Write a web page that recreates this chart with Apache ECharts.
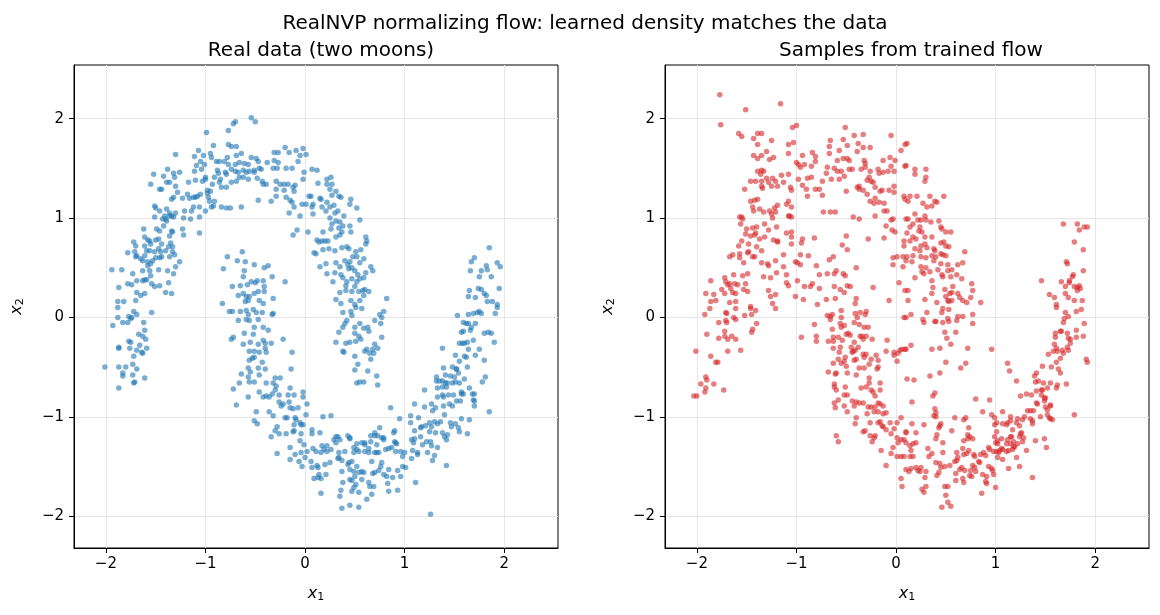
<!DOCTYPE html>
<html>
<head>
<meta charset="utf-8">
<script src="https://cdn.jsdelivr.net/npm/echarts@6/dist/echarts.min.js"></script>
<style>
  html, body { margin: 0; padding: 0; background: #fff; }
  #main { width: 1160px; height: 615px; }
</style>
</head>
<body>
<div id="main"></div>
<script>
// two moons
var realData = [
  [-0.54,2.01],[-0.50,1.97],[-0.70,1.97],[-0.72,1.95],[-0.77,1.88],[-0.99,1.86],[-0.77,1.74],[-0.74,1.72],[-0.69,1.72],[-0.92,1.73],
  [-0.20,1.71],[-0.09,1.68],[-0.02,1.70],[-1.07,1.68],[-1.30,1.64],[-1.11,1.62],[-1.02,1.63],[-0.95,1.65],[-0.94,1.61],[-0.78,1.61],
  [-0.69,1.63],[-0.64,1.65],[-0.54,1.61],[-0.49,1.60],[-0.47,1.57],[-0.38,1.56],[-0.31,1.66],[-0.27,1.66],[-0.16,1.66],[-0.05,1.63],
  [0.01,1.64],[-1.05,1.57],[-1.01,1.54],[-0.89,1.57],[-0.86,1.57],[-0.81,1.57],[-0.77,1.54],[-0.74,1.49],[-0.70,1.54],[-0.66,1.56],
  [-0.61,1.55],[-0.62,1.48],[-0.57,1.54],[-0.51,1.48],[-0.46,1.50],[-0.31,1.58],[-0.27,1.56],[-0.32,1.50],[-0.19,1.50],[-0.13,1.50],
  [-0.07,1.57],[-1.09,1.53],[-1.04,1.49],[-1.11,1.47],[-0.88,1.48],[-0.87,1.45],[-0.80,1.46],[-0.79,1.44],[-0.70,1.47],[-0.67,1.46],
  [-0.59,1.46],[-0.56,1.47],[-0.51,1.46],[-0.44,1.49],[-0.28,1.50],[-1.38,1.49],[-1.32,1.45],[-1.26,1.46],[-1.52,1.44],[-1.42,1.42],
  [-1.55,1.34],[-1.46,1.29],[-1.44,1.29],[-1.39,1.36],[-1.36,1.36],[-1.31,1.41],[-1.30,1.32],[-1.17,1.36],[-1.10,1.38],[-1.03,1.37],
  [-1.00,1.39],[-1.00,1.41],[-0.91,1.41],[-0.86,1.36],[-0.85,1.39],[-0.84,1.31],[-0.79,1.31],[-0.74,1.36],[-0.69,1.37],[-0.66,1.41],
  [-0.62,1.41],[-0.57,1.39],[-0.48,1.40],[-0.42,1.34],[-0.39,1.34],[-0.43,1.37],[-0.29,1.37],[-0.25,1.34],[-0.21,1.34],[-0.17,1.34],
  [-0.12,1.31],[-0.10,1.33],[-0.02,1.39],[-0.01,1.46],[0.07,1.49],[-0.29,1.29],[-0.21,1.28],[-0.11,1.27],[-0.98,1.28],[-0.95,1.27],
  [-0.93,1.34],[-1.28,1.26],[-1.32,1.21],[-1.34,1.19],[-1.18,1.24],[-1.16,1.20],[-1.12,1.21],[-1.10,1.21],[-1.08,1.22],[-1.05,1.24],
  [-0.98,1.25],[-0.97,1.21],[-0.91,1.17],[-0.96,1.17],[-0.84,1.11],[-0.79,1.10],[-0.75,1.10],[-0.64,1.11],[-0.47,1.18],[-0.34,1.17],
  [-0.29,1.22],[-0.19,1.21],[-0.15,1.18],[-0.13,1.16],[-0.11,1.11],[-0.03,1.14],[0.01,1.14],[0.04,1.22],[0.06,1.22],[0.07,1.11],
  [0.08,1.14],[-1.23,1.20],[-1.12,1.11],[-1.06,1.11],[-1.51,1.12],[-1.50,1.10],[-1.46,1.07],[-1.41,1.02],[-1.39,1.09],[-1.36,1.02],
  [-1.36,1.05],[-1.34,1.02],[-1.32,1.01],[-1.39,0.97],[-1.43,0.99],[-1.40,0.99],[-1.51,1.01],[-1.30,1.05],[-1.21,1.07],[-1.14,1.07],
  [-1.06,1.01],[-1.22,1.00],[-1.15,0.99],[-1.00,1.07],[-0.94,1.11],[-0.92,1.12],[-0.16,1.05],[-0.05,1.02],[0.08,1.04],
  [-1.62,0.89],[-1.49,0.89],[-1.46,0.87],[-1.42,0.92],[-1.34,0.87],[-1.33,0.86],[-1.36,0.82],[-1.23,0.89],[-1.22,0.83],[-1.06,0.85],
  [-1.72,0.76],[-1.61,0.81],[-1.58,0.78],[-1.56,0.77],[-1.55,0.74],[-1.50,0.78],[-1.47,0.79],[-1.44,0.74],[-1.35,0.75],[-1.33,0.71],
  [-1.70,0.72],[-1.78,0.65],[-1.71,0.66],[-1.69,0.62],[-1.61,0.72],[-1.61,0.62],[-1.59,0.67],[-1.56,0.67],[-1.51,0.66],[-1.47,0.69],
  [-1.45,0.66],[-1.40,0.67],[-1.37,0.71],[-1.33,0.66],[-1.31,0.63],[-1.36,0.61],[-1.26,0.56],[-1.30,0.51],[-1.70,0.61],[-1.65,0.59],
  [-1.63,0.57],[-1.58,0.56],[-1.55,0.54],[-1.53,0.57],[-1.50,0.60],[-1.46,0.60],[-1.44,0.61],[-1.58,0.52],[-1.56,0.47],[-1.63,0.47],
  [-1.55,0.42],[-1.61,0.38],[-1.63,0.37],[-1.59,0.38],[-1.54,0.34],[-1.51,0.31],[-1.46,0.32],[-1.73,0.44],[-1.78,0.34],[-1.74,0.33],
  [-1.69,0.37],[-1.84,0.48],[-1.94,0.48],[-1.87,0.30],[-1.69,0.25],[-1.65,0.22],[-1.61,0.24],[-1.37,0.35],[-1.40,0.25],[-1.34,0.24],
  [-1.32,0.44],[-1.38,0.47],[-1.47,0.48],[-1.88,0.16],[-1.82,0.16],[-1.70,0.17],
  [-0.78,0.61],[-0.68,0.57],[-0.63,0.66],[-0.60,0.56],[-0.51,0.53],[-0.41,0.50],[-0.37,0.52],[-0.61,0.47],[-0.62,0.41],[-0.73,0.31],
  [-0.65,0.32],[-0.58,0.33],[-0.54,0.36],[-0.50,0.35],[-0.48,0.37],[-0.42,0.37],[-0.41,0.31],[-0.33,0.41],[-0.20,0.36],[-0.67,0.22],
  [-0.62,0.24],[-0.59,0.21],[-0.56,0.21],[-0.51,0.24],[-0.47,0.26],[-0.41,0.26],[-0.60,0.16],[-0.57,0.17],[-0.46,0.17],[-0.42,0.14],
  [-0.83,0.14],[-0.82,0.49],[-0.32,0.19],[-0.12,0.83],[-0.08,0.88],[0.03,0.86],[0.09,0.65],
  [0.12,1.48],[0.13,1.35],[0.22,1.39],[0.26,1.41],[0.22,1.34],[0.27,1.34],[0.25,1.29],[0.31,1.27],[0.34,1.22],[0.27,1.23],
  [0.36,1.21],[0.15,1.20],[0.16,1.19],[0.22,1.16],[0.46,1.19],[0.17,1.11],[0.25,1.11],[0.29,1.13],[0.21,1.07],[0.30,1.05],
  [0.33,1.07],[0.45,1.14],[0.52,1.10],[0.39,1.02],[0.25,1.00],[0.31,0.97],[0.35,0.96],[0.38,0.92],[0.27,0.94],[0.34,0.90],
  [0.26,0.89],[0.45,0.92],[0.55,0.98],[0.46,0.86],[0.37,0.86],[0.18,0.86],[0.35,0.83],[0.31,0.81],[0.61,0.81],[0.62,0.77],
  [0.61,0.74],[0.12,0.78],[0.17,0.77],[0.20,0.77],[0.23,0.77],[0.14,0.76],[0.24,0.69],[0.18,0.68],[0.30,0.67],[0.37,0.70],
  [0.42,0.71],[0.44,0.69],[0.51,0.66],[0.56,0.68],[0.48,0.61],[0.52,0.61],[0.59,0.59],[0.40,0.57],[0.45,0.56],[0.55,0.55],
  [0.11,0.64],[0.15,0.51],[0.21,0.54],[0.31,0.55],[0.35,0.51],[0.43,0.53],[0.47,0.50],[0.44,0.49],[0.50,0.47],[0.53,0.43],
  [0.61,0.45],[0.66,0.51],[0.68,0.47],[0.22,0.44],[0.30,0.45],[0.36,0.43],[0.38,0.40],[0.42,0.36],[0.47,0.39],[0.52,0.36],
  [0.55,0.39],[0.59,0.40],[0.28,0.36],[0.41,0.32],[0.50,0.31],[0.35,0.25],[0.41,0.27],[0.47,0.26],[0.54,0.26],[0.58,0.27],
  [0.60,0.28],[0.64,0.26],[0.59,0.22],[0.31,0.18],[0.36,0.14],[0.46,0.17],[0.55,0.17],[0.50,0.13],[0.82,0.19],
  [1.85,0.70],[1.70,0.60],[1.67,0.56],[1.66,0.47],[1.77,0.47],[1.82,0.52],[1.83,0.48],[1.93,0.55],[1.96,0.51],[1.75,0.41],
  [1.87,0.41],[1.65,0.27],[1.74,0.29],[1.77,0.28],[1.80,0.24],[1.82,0.22],[1.95,0.29],[1.64,0.21],[1.71,0.20],[1.83,0.16],
  [1.88,0.16],[1.93,0.13],
  [-1.88,0.10],[-1.72,0.06],[-1.69,0.03],[-1.54,0.05],[-1.88,0.00],[-1.77,0.01],[-1.75,-0.01],[-1.74,0.00],[-1.83,-0.05],[-1.78,-0.05],
  [-1.62,-0.05],[-1.93,-0.08],[-1.67,-0.17],[-1.63,-0.19],[-1.61,-0.13],[-1.60,-0.22],[-1.77,-0.24],[-1.75,-0.25],[-1.87,-0.30],[-1.87,-0.31],
  [-1.76,-0.31],[-1.66,-0.28],[-1.59,-0.31],[-1.69,-0.33],[-1.64,-0.35],[-1.63,-0.36],[-1.72,-0.39],[-2.01,-0.50],[-1.87,-0.50],[-1.80,-0.50],
  [-1.73,-0.47],[-1.69,-0.52],[-1.83,-0.56],[-1.83,-0.59],[-1.73,-0.58],[-1.61,-0.61],[-1.72,-0.66],[-1.71,-0.65],[-1.87,-0.71],
  [-0.76,0.06],[-0.73,0.06],[-0.65,0.06],[-0.59,0.07],[-0.57,0.03],[-0.52,0.08],[-0.49,0.05],[-0.43,0.05],[-0.33,0.03],[-0.32,0.04],
  [-0.67,-0.03],[-0.59,-0.02],[-0.56,-0.03],[-0.47,-0.02],[-0.42,-0.10],[-0.37,-0.13],[-0.51,-0.10],[-0.61,-0.16],[-0.52,-0.17],[-0.74,-0.22],
  [-0.72,-0.20],[-0.62,-0.27],[-0.55,-0.25],[-0.47,-0.27],[-0.42,-0.23],[-0.40,-0.26],[-0.34,-0.26],[-0.22,-0.22],[-0.56,-0.34],[-0.51,-0.34],
  [-0.46,-0.35],[-0.40,-0.31],[-0.39,-0.35],[-0.51,-0.40],[-0.53,-0.41],[-0.56,-0.43],[-0.43,-0.45],[-0.13,-0.35],[-0.57,-0.51],[-0.47,-0.51],
  [-0.40,-0.52],[-0.64,-0.57],[-0.57,-0.60],[-0.55,-0.55],[-0.46,-0.58],[-0.14,-0.52],[-0.56,-0.65],[-0.51,-0.65],[-0.39,-0.66],[-0.32,-0.66],
  [-0.30,-0.61],[-0.25,-0.61],[-0.66,-0.66],[-0.72,-0.72],[-0.57,-0.80],[-0.46,-0.75],[-0.42,-0.80],[-0.39,-0.79],[-0.36,-0.80],[-0.33,-0.77],
  [-0.29,-0.69],[-0.30,-0.73],[-0.26,-0.78],[-0.15,-0.71],[-0.17,-0.78],[-0.11,-0.78],[-0.02,-0.75],[-0.02,-0.80],[-0.26,-0.85],[-0.22,-0.87],
  [-0.16,-0.85],[-0.24,-0.89],[-0.15,-0.91],[-0.12,-0.92],[-0.07,-0.91],[0.02,-0.87],[0.01,-0.98],[-0.69,-0.88],[-0.49,-0.95],[-0.36,-0.95],
  [-0.32,-0.99],[-0.51,-1.04],[-0.48,-1.07],[-0.28,-1.10],[-0.20,-1.01],[-0.18,-1.01],[-0.10,-1.01],[-0.09,-1.03],[-0.05,-1.06],[-0.02,-1.08],
  [-0.04,-1.08],[-0.11,-1.08],[-0.30,-1.14],[-0.26,-1.17],[-0.34,-1.20],[-0.19,-1.17],[-0.12,-1.15],[-0.11,-1.14],[-0.04,-1.17],[0.07,-1.13],
  [0.07,-1.17],[-0.15,-1.31],[-0.05,-1.24],[-0.01,-1.28],[0.08,-1.32],[0.02,-1.35],[-0.04,-1.36],[-0.10,-1.38],[-0.28,-1.37],[-0.15,-1.43],
  [-0.06,-1.45],[0.00,-1.41],[0.06,-1.45],[-0.03,-1.50],[0.07,-1.51],[0.09,-1.62],
  [0.38,0.05],[0.46,0.06],[0.51,0.10],[0.57,0.09],[0.79,0.06],[0.75,0.03],[0.47,0.02],[0.42,-0.03],[0.40,-0.06],[0.38,-0.10],
  [0.34,-0.15],[0.50,-0.10],[0.55,-0.06],[0.59,-0.11],[0.63,-0.10],[0.64,-0.14],[0.70,-0.03],[0.76,-0.06],[0.77,0.00],[0.50,-0.16],
  [0.54,-0.19],[0.56,-0.22],[0.31,-0.25],[0.41,-0.26],[0.45,-0.25],[0.51,-0.24],[0.77,-0.20],[0.70,-0.27],[0.73,-0.31],[0.68,-0.32],
  [0.60,-0.34],[0.62,-0.32],[0.38,-0.34],[0.39,-0.35],[0.50,-0.39],[0.65,-0.36],[0.69,-0.36],[0.53,-0.47],[0.50,-0.53],[0.63,-0.54],
  [0.66,-0.42],[0.72,-0.59],[0.73,-0.68],[0.52,-0.66],[0.55,-0.65],[0.59,-0.65],
  [0.18,-1.00],[0.26,-0.99],[0.15,-1.16],[0.11,-1.35],[0.17,-1.29],[0.22,-1.29],[0.26,-1.33],[0.19,-1.33],[0.22,-1.35],[0.16,-1.36],
  [0.12,-1.49],[0.13,-1.51],[0.14,-1.58],[0.13,-1.61],[0.16,-1.62],[0.16,-1.77],[0.21,-1.58],[0.25,-1.46],[0.20,-1.48],[0.29,-1.23],
  [0.31,-1.20],[0.33,-1.20],[0.35,-1.23],[0.43,-1.19],[0.45,-1.21],[0.45,-1.22],[0.31,-1.26],[0.34,-1.36],[0.34,-1.41],[0.33,-1.42],
  [0.37,-1.44],[0.40,-1.35],[0.49,-1.36],[0.52,-1.33],[0.54,-1.35],[0.60,-1.26],[0.60,-1.28],[0.64,-1.32],[0.66,-1.25],[0.70,-1.16],
  [0.73,-1.19],[0.75,-1.11],[0.79,-1.21],[0.70,-1.36],[0.74,-1.36],[0.77,-1.46],[0.81,-1.33],[0.84,-1.32],[0.87,-1.31],[0.90,-1.25],
  [0.92,-1.27],[0.89,-1.16],[0.90,-1.14],[0.91,-1.26],[0.47,-1.45],[0.43,-1.48],[0.45,-1.53],[0.52,-1.50],[0.49,-1.55],[0.54,-1.56],
  [0.57,-1.55],[0.59,-1.56],[0.50,-1.60],[0.37,-1.55],[0.38,-1.66],[0.45,-1.63],[0.47,-1.64],[0.51,-1.68],[0.49,-1.71],[0.36,-1.74],
  [0.35,-1.80],[0.47,-1.75],[0.54,-1.76],[0.37,-1.92],[0.45,-1.89],[0.54,-1.91],[0.62,-1.83],[0.67,-1.78],[0.69,-1.70],[0.68,-1.57],
  [0.70,-1.56],[0.74,-1.54],[0.67,-1.45],[0.72,-1.36],[0.76,-1.50],[0.79,-1.58],[0.82,-1.60],[0.84,-1.53],[0.83,-1.67],[0.84,-1.75],
  [0.88,-1.61],[0.93,-1.74],[0.96,-1.60],[0.93,-1.54],[0.98,-1.50],[1.01,-1.51],[1.00,-1.36],[0.98,-1.40],[0.96,-1.35],[0.91,-1.35],
  [0.60,-1.35],[0.64,-1.36],[0.72,-1.28],[0.77,-1.21],[0.79,-1.23],[0.70,-1.19],[0.66,-1.19],[0.57,-1.26],[0.52,-1.27],[0.49,-1.31],
  [0.44,-1.46],[0.57,-1.63],[0.64,-1.66],[0.65,-1.70],
  [1.07,-1.42],[1.08,-1.34],[1.13,-1.38],[1.09,-1.26],[1.07,-1.23],[1.10,-1.22],[1.11,-1.66],[1.06,-1.06],[1.10,-1.14],[1.16,-1.11],
  [1.17,-1.10],[1.21,-1.09],[1.25,-1.06],[1.30,-1.05],[1.33,-1.07],[1.36,-1.05],[1.27,-1.10],[1.25,-1.15],[1.31,-1.16],[1.38,-1.16],
  [1.40,-1.20],[1.43,-1.18],[1.42,-1.23],[1.33,-1.31],[1.27,-1.29],[1.22,-1.25],[1.16,-1.20],[1.18,-1.28],[1.30,-1.39],[1.28,-1.44],
  [1.23,-1.36],[1.13,-1.36],[1.42,-1.49],[1.26,-1.98],[1.26,-1.25],[1.46,-1.06],[1.51,-1.07],[1.54,-1.11],[1.55,-1.15],[1.63,-1.17],
  [1.65,-1.03],[1.57,-1.02],[1.47,-1.10],[0.95,-1.02],[0.86,-0.91],[1.06,-0.99],[1.14,-1.01],[1.10,-0.87],[1.20,-0.90],[1.27,-0.87],
  [1.28,-0.94],[1.31,-0.91],[1.39,-0.89],[1.40,-0.98],[1.45,-0.87],[1.48,-0.89],[1.52,-0.84],[1.56,-0.84],[1.70,-0.84],[1.70,-0.89],
  [1.85,-0.95],[1.33,-0.80],[1.38,-0.78],[1.39,-0.80],[1.44,-0.78],[1.49,-0.78],[1.57,-0.75],[1.57,-0.77],[1.59,-0.77],[1.68,-0.77],
  [1.20,-0.73],[1.33,-0.71],[1.38,-0.70],[1.42,-0.70],[1.41,-0.66],[1.43,-0.66],[1.48,-0.66],[1.51,-0.65],[1.55,-0.66],[1.60,-0.62],
  [1.65,-0.71],[1.70,-0.77],[1.32,-0.64],[1.35,-0.64],[1.38,-0.64],[1.32,-0.60],[1.41,-0.58],[1.46,-0.59],[1.50,-0.60],[1.54,-0.56],
  [1.52,-0.52],[1.39,-0.51],[1.48,-0.50],[1.52,-0.52],[1.81,-0.60],[1.78,-0.65],[1.69,-0.83],[1.55,-0.44],[1.60,-0.39],[1.62,-0.40],
  [1.51,-0.38],[1.63,-0.50],[1.71,-0.38],[1.75,-0.32],[1.80,-0.43],[1.64,-0.32],[1.38,-0.31],[1.55,-0.26],[1.58,-0.26],[1.60,-0.26],
  [1.63,-0.25],[1.69,-0.23],[1.57,-0.15],[1.59,-0.14],[1.66,-0.13],[1.67,-0.10],[1.80,-0.16],[1.84,-0.15],[1.87,-0.16],[1.90,-0.25],
  [1.59,-0.05],[1.62,-0.06],[1.64,-0.06],[1.71,-0.06],[1.53,0.02],[1.64,0.03],[1.69,0.04],[1.73,0.05],[1.75,0.06],[1.77,0.04],
  [1.91,0.04],[1.93,0.10]
];

// samples from the flow
var flowData = [
  [-1.77,2.24],[-1.51,2.09],[-1.16,2.15],[-1.76,1.94],[-1.00,1.93],[-1.04,1.91],[-0.51,1.91],[-1.58,1.85],[-1.55,1.82],[-1.39,1.85],
  [-1.35,1.85],[-1.43,1.80],[-1.25,1.78],[-1.39,1.74],[-1.08,1.74],[-1.03,1.76],[-0.42,1.83],[-0.33,1.84],[-0.53,1.79],[-0.66,1.78],
  [-0.49,1.73],[-0.38,1.75],[-0.67,1.72],[-0.33,1.71],[-0.26,1.71],[-0.05,1.83],[0.09,1.74],[0.05,1.68],[-1.30,1.67],[-1.43,1.63],
  [-1.35,1.63],[-1.39,1.60],[-1.27,1.59],[-1.23,1.61],[-1.08,1.65],[-0.94,1.63],[-0.84,1.66],[-0.81,1.62],[-0.67,1.65],[-0.57,1.68],
  [-0.53,1.60],[-0.49,1.60],[-0.47,1.58],[-0.39,1.67],[-0.32,1.58],[-0.31,1.55],[-0.13,1.58],[-0.06,1.61],[-0.01,1.58],[-1.00,1.56],
  [-0.98,1.54],[-0.96,1.51],[-0.92,1.54],[-0.85,1.52],[-0.81,1.57],[-0.59,1.58],[-0.62,1.50],[-0.69,1.51],[-0.70,1.45],[-0.59,1.47],
  [-0.55,1.47],[-0.47,1.49],[-0.44,1.49],[-0.35,1.49],[-0.31,1.51],[-0.26,1.47],[-0.18,1.49],[-0.17,1.45],[-0.13,1.46],[-0.08,1.47],
  [-0.05,1.52],[-0.02,1.47],[0.09,1.52],[-1.39,1.47],[-1.35,1.48],[-1.33,1.47],[-1.36,1.44],[-1.30,1.40],[-1.46,1.37],[-1.41,1.37],
  [-1.35,1.37],[-1.28,1.36],[-1.24,1.40],[-1.21,1.37],[-1.15,1.43],[-1.13,1.36],[-1.08,1.44],[-1.25,1.32],[-1.19,1.32],[-1.35,1.32],
  [-1.34,1.30],[-1.52,1.29],[-1.06,1.31],[-1.05,1.28],[-0.98,1.39],[-0.89,1.40],[-0.85,1.41],[-0.94,1.33],[-0.90,1.29],[-0.89,1.22],
  [-0.81,1.29],[-0.77,1.29],[-0.74,1.23],[-0.74,1.37],[-0.65,1.39],[-0.57,1.39],[-0.52,1.42],[-0.50,1.27],[-0.39,1.31],[-0.37,1.29],
  [-0.37,1.32],[-0.33,1.28],[-0.27,1.41],[-0.29,1.38],[-0.25,1.37],[-0.23,1.36],[-0.21,1.31],[-0.16,1.27],[-0.14,1.28],[-0.07,1.28],
  [-0.02,1.32],[-0.29,1.24],[-0.21,1.20],[-0.26,1.17],[-0.22,1.15],[-0.17,1.16],[-0.12,1.15],[-0.09,1.07],[-0.02,1.26],[0.08,1.22],
  [0.09,1.19],[-1.42,1.18],[-1.39,1.19],[-1.46,1.17],[-1.44,1.11],[-1.37,1.09],[-1.43,1.07],[-1.33,1.06],[-1.27,1.07],[-1.22,1.10],
  [-1.19,1.13],[-1.10,1.14],[-1.08,1.17],[-1.05,1.11],[-1.21,1.06],[-1.24,1.00],[-1.25,1.04],[-1.07,1.02],[-1.05,1.01],[-1.08,1.02],
  [-0.73,1.06],[-0.66,1.06],[-0.61,1.06],[-0.43,1.01],[-0.37,0.99],[-0.21,1.02],[-0.12,1.07],[-0.05,0.98],[-0.03,0.99],[-0.10,0.92],
  [-0.04,0.88],[-0.01,0.86],[0.10,0.99],[-1.57,1.01],[-1.55,1.01],[-1.54,0.99],[-1.56,0.94],[-1.50,0.89],[-1.44,0.90],[-1.40,0.91],
  [-1.32,0.94],[-1.28,0.88],[-1.20,0.91],[-1.51,0.84],[-1.46,0.82],[-1.42,0.83],[-1.41,0.85],[-1.37,0.79],[-1.32,0.81],[-1.55,0.77],
  [-1.48,0.74],[-1.58,0.72],[-1.40,0.71],[-1.35,0.67],[-1.23,0.78],[-1.19,0.77],[-1.19,0.76],[-1.10,0.85],[-1.05,0.86],[-1.05,0.81],
  [-1.05,0.74],[-0.94,0.79],[-0.95,0.75],[-0.82,0.80],[-0.50,0.82],[-0.54,0.73],[-0.49,0.68],[-0.28,0.79],[-0.12,0.80],[-1.48,0.66],
  [-1.42,0.61],[-1.44,0.61],[-1.49,0.65],[-1.53,0.55],[-1.57,0.60],[-1.67,0.61],[-1.64,0.63],[-1.57,0.64],[-1.35,0.55],[-1.29,0.54],
  [-1.28,0.52],[-1.21,0.57],[-1.13,0.63],[-1.13,0.51],[-1.01,0.56],[-0.99,0.55],[-0.96,0.53],[-0.96,0.63],[-0.88,0.62],[-0.80,0.52],
  [-0.67,0.58],[-0.63,0.61],[-0.60,0.47],[-0.62,0.44],[-0.53,0.44],[-0.51,0.42],[-0.40,0.50],[-0.77,0.43],[-0.69,0.44],[-1.10,0.43],
  [-1.20,0.45],[-1.33,0.41],[-1.26,0.40],[-1.49,0.44],[-1.54,0.42],[-1.63,0.43],[-1.72,0.40],[-1.71,0.36],[-1.69,0.33],[-1.67,0.34],
  [-1.62,0.34],[-1.59,0.33],[-1.51,0.34],[-1.66,0.29],[-1.64,0.25],[-1.61,0.24],[-1.53,0.28],[-1.49,0.26],[-1.75,0.28],[-1.72,0.24],
  [-1.86,0.37],[-1.83,0.23],[-1.91,0.24],[-1.86,0.16],[-1.81,0.17],[-1.67,0.15],[-1.61,0.16],[-1.46,0.11],[-1.28,0.27],[-1.26,0.21],
  [-1.21,0.23],[-1.24,0.14],[-1.10,0.35],[-1.08,0.32],[-0.99,0.37],[-1.01,0.21],[-0.93,0.18],[-0.92,0.31],[-0.86,0.31],[-0.84,0.34],
  [-0.77,0.29],[-0.70,0.18],[-0.79,0.13],[-0.62,0.31],[-0.61,0.19],[-0.56,0.28],[-0.52,0.25],[-0.49,0.32],[-0.46,0.31],[-0.40,0.19],
  [-0.41,0.14],[-0.23,0.30],[-0.07,0.17],[0.03,0.35],[0.09,0.27],[0.08,0.72],[0.08,0.77],[0.07,0.61],[-0.03,0.60],[0.01,0.61],
  [-0.03,0.53],[0.07,0.51],
  [0.11,1.75],[0.10,1.53],[0.19,1.49],[0.19,1.44],[0.30,1.49],[0.29,1.37],[0.30,1.41],[0.14,1.22],[0.21,1.22],[0.34,1.22],
  [0.48,1.22],[0.39,1.17],[0.41,1.16],[0.36,1.12],[0.31,1.11],[0.27,1.15],[0.12,1.17],[0.12,0.99],[0.19,1.04],[0.29,1.02],
  [0.22,0.98],[0.25,0.98],[0.30,0.98],[0.35,0.96],[0.43,0.97],[0.17,0.94],[0.14,0.91],[0.24,0.91],[0.45,0.91],[0.46,0.89],
  [0.23,0.87],[0.26,0.86],[0.50,0.86],[0.55,0.86],[0.11,0.85],[0.17,0.81],[0.29,0.81],[0.36,0.81],[0.20,0.79],[0.14,0.77],
  [0.25,0.72],[0.29,0.74],[0.45,0.75],[0.48,0.76],[0.50,0.72],[0.53,0.71],[0.19,0.69],[0.24,0.67],[0.31,0.70],[0.38,0.69],
  [0.39,0.67],[0.45,0.64],[0.47,0.63],[0.50,0.62],[0.69,0.66],[0.11,0.61],[0.17,0.62],[0.25,0.61],[0.30,0.60],[0.36,0.62],
  [0.40,0.61],[0.38,0.57],[0.16,0.56],[0.10,0.57],[0.25,0.51],[0.30,0.50],[0.26,0.46],[0.28,0.44],[0.34,0.46],[0.42,0.48],
  [0.45,0.54],[0.52,0.53],[0.52,0.47],[0.56,0.48],[0.61,0.43],[0.62,0.53],[0.67,0.55],[0.46,0.43],[0.47,0.41],[0.55,0.41],
  [0.66,0.39],[0.19,0.40],[0.36,0.37],[0.37,0.30],[0.36,0.24],[0.49,0.28],[0.57,0.31],[0.56,0.25],[0.76,0.34],[0.77,0.27],
  [0.62,0.24],[0.54,0.24],[0.50,0.21],[0.56,0.17],[0.53,0.16],[0.52,0.17],[0.64,0.20],[0.67,0.17],[0.71,0.15],[0.75,0.20],
  [0.85,0.15],[0.41,0.15],[0.29,0.18],[0.12,0.17],[0.12,0.27],
  [1.68,0.94],[1.82,0.94],[1.84,0.88],[1.89,0.91],[1.92,0.91],[1.79,0.76],[1.88,0.68],[1.71,0.56],[1.72,0.54],[1.88,0.47],
  [1.78,0.43],[1.77,0.41],[1.74,0.37],[1.66,0.36],[1.70,0.31],[1.74,0.35],[1.79,0.31],[1.82,0.30],[1.84,0.32],[1.82,0.27],
  [1.85,0.29],[1.46,0.37],[1.54,0.23],[1.59,0.20],[1.70,0.24],[1.73,0.20],[1.79,0.17],[1.87,0.17],[1.61,0.13],
  [-1.87,0.09],[-1.92,0.03],[-1.71,0.05],[-1.70,0.04],[-1.61,0.09],[-1.52,0.02],[-1.46,0.09],[-1.41,0.07],[-1.45,0.03],[-1.21,0.09],
  [-1.78,-0.05],[-1.71,-0.03],[-1.70,-0.05],[-1.63,0.00],[-1.61,-0.02],[-1.40,-0.06],[-1.44,-0.12],[-1.45,-0.15],[-1.90,-0.17],[-1.78,-0.21],
  [-1.72,-0.19],[-1.69,-0.22],[-1.65,-0.19],[-1.61,-0.22],[-1.72,-0.14],[-2.01,-0.34],[-1.69,-0.34],[-1.56,-0.33],[-1.86,-0.39],[-1.81,-0.45],
  [-1.79,-0.45],[-1.91,-0.60],[-1.90,-0.63],[-1.96,-0.67],[-1.91,-0.71],[-1.92,-0.75],[-1.83,-0.67],[-1.73,-0.73],[-2.03,-0.79],[-2.00,-0.79],
  [-0.95,-0.20],[-0.82,-0.07],[-0.80,-0.19],[-0.80,-0.24],[-0.69,0.02],[-0.66,0.01],[-0.64,0.03],[-0.66,-0.02],[-0.55,0.07],[-0.55,0.00],
  [-0.56,-0.06],[-0.52,-0.08],[-0.55,-0.10],[-0.64,-0.12],[-0.63,-0.20],[-0.63,-0.24],[-0.68,-0.24],[-0.63,-0.31],[-0.58,-0.20],[-0.54,-0.23],
  [-0.56,-0.30],[-0.48,-0.16],[-0.46,-0.18],[-0.50,-0.17],[-0.42,-0.25],[-0.45,-0.30],[-0.41,0.04],[-0.39,0.00],[-0.42,-0.05],[-0.37,-0.07],
  [-0.32,-0.10],[-0.28,-0.10],[-0.36,0.05],[-0.30,0.06],[-0.31,0.03],[-0.36,-0.19],[-0.34,-0.19],[-0.30,-0.19],[-0.33,-0.22],[-0.24,-0.22],
  [-0.41,-0.33],[-0.38,-0.30],[-0.43,-0.34],[-0.44,-0.35],[-0.57,-0.35],[-0.51,-0.40],[-0.52,-0.44],[-0.58,-0.42],[-0.55,-0.46],[-0.63,-0.46],
  [-0.50,-0.49],[-0.40,-0.42],[-0.42,-0.43],[-0.33,-0.37],[-0.32,-0.40],[-0.30,-0.37],[-0.27,-0.47],[-0.32,-0.51],[-0.37,-0.51],[-0.25,-0.42],
  [-0.20,-0.38],[-0.18,-0.43],[-0.18,-0.50],[-0.19,-0.52],[-0.10,-0.34],[-0.02,-0.38],[0.02,-0.36],[0.06,-0.32],[0.09,-0.32],[0.01,-0.44],
  [-0.68,-0.55],[-0.61,-0.57],[-0.60,-0.56],[-0.49,-0.56],[-0.40,-0.58],[-0.27,-0.61],[-0.27,-0.66],[-0.30,-0.70],[-0.35,-0.71],[-0.62,-0.67],
  [-0.62,-0.70],[-0.60,-0.73],[-0.51,-0.70],[-0.49,-0.78],[-0.52,-0.78],[-0.58,-0.83],[-0.62,-0.86],[-0.61,-0.91],[-0.52,-0.89],[-0.49,-0.95],
  [-0.44,-0.84],[-0.40,-0.85],[-0.37,-0.86],[-0.42,-0.89],[-0.33,-0.86],[-0.28,-0.90],[-0.29,-0.97],[-0.25,-0.73],[-0.23,-0.75],[-0.16,-0.66],
  [-0.16,-0.73],[-0.21,-0.79],[-0.18,-0.86],[-0.16,-0.87],[-0.13,-0.89],[-0.21,-0.90],[-0.22,-0.95],[-0.18,-0.95],[-0.25,-0.90],[-0.10,-0.96],
  [-0.13,-0.97],[-0.16,-1.05],[-0.18,-1.06],[-0.14,-1.09],[-0.13,-1.10],[-0.06,-1.06],[-0.10,-1.13],[-0.40,-1.01],[-0.41,-1.07],[-0.31,-1.14],
  [-0.33,-1.15],[-0.26,-1.06],[-0.22,-1.21],[-0.24,-1.25],[-0.26,-1.19],[-0.21,-1.19],[-0.60,-1.19],[-0.58,-1.25],[-0.05,-1.17],[0.01,-1.21],
  [0.02,-1.26],[0.05,-1.23],[0.08,-1.23],[0.10,-1.16],[0.05,-1.01],[0.01,-1.06],[-0.02,-1.12],[-0.03,-1.31],[0.01,-1.40],[0.05,-1.40],
  [0.08,-1.40],[-0.05,-1.37],[-0.15,-1.34],[-0.10,-1.49],[0.05,-1.62],[0.06,-1.70],[0.10,-1.53],[-0.09,-0.23],[-0.02,-0.35],[0.04,-0.33],
  [0.08,0.00],
  [0.31,0.05],[0.47,0.09],[0.53,0.08],[0.46,0.05],[0.62,0.01],[0.67,0.01],[0.77,0.03],[0.27,-0.02],[0.28,-0.05],[0.39,-0.04],
  [0.40,-0.04],[0.47,-0.05],[0.52,-0.01],[0.53,-0.04],[0.61,-0.03],[0.77,-0.06],[0.49,-0.15],[0.60,-0.15],[0.51,-0.21],[0.55,-0.27],
  [0.15,-0.28],[0.10,-0.32],[0.36,-0.32],[0.44,-0.31],[0.72,-0.31],[0.96,-0.32],[0.50,-0.45],[0.65,-0.51],[0.70,-0.46],[0.34,-0.59],
  [0.44,-0.56],[0.11,-0.62],[0.18,-0.63],[0.37,-0.79],[0.39,-0.76],[0.16,-0.85],[0.80,-0.82],[0.94,-0.83],[0.39,-0.92],[0.40,-0.96],
  [0.38,-0.99],[0.40,-1.00],[0.59,-1.01],[0.68,-1.03],[0.70,-1.01],[0.87,-0.95],[0.96,-0.98],[0.16,-1.07],[0.28,-1.08],[0.44,-1.09],
  [0.45,-1.07],[0.43,-1.11],[0.41,-1.18],[0.40,-1.22],[0.56,-1.14],[0.73,-1.11],[0.72,-1.18],[0.74,-1.20],[0.77,-1.22],[0.68,-1.24],
  [0.72,-1.22],[0.47,-1.26],[0.47,-1.36],[0.10,-1.15],[0.10,-1.26],[0.14,-1.29],[0.17,-1.27],[0.20,-1.26],[0.15,-1.34],[0.17,-1.40],
  [0.14,-1.40],[0.32,-1.32],[0.36,-1.37],[0.33,-1.40],[0.40,-1.46],[0.44,-1.47],[0.45,-1.51],[0.43,-1.56],[0.41,-1.59],[0.49,-1.50],
  [0.54,-1.49],[0.61,-1.36],[0.62,-1.41],[0.59,-1.45],[0.61,-1.44],[0.67,-1.32],[0.73,-1.34],[0.71,-1.37],[0.68,-1.38],[0.78,-1.38],
  [0.79,-1.40],[0.83,-1.45],[0.84,-1.46],[0.77,-1.49],[0.75,-1.54],[0.79,-1.51],[0.80,-1.55],[0.66,-1.51],[0.64,-1.53],[0.69,-1.54],
  [0.74,-1.59],[0.76,-1.60],[0.67,-1.62],[0.68,-1.66],[0.60,-1.57],[0.60,-1.64],[0.52,-1.70],[0.49,-1.70],[0.50,-1.79],[0.52,-1.86],
  [0.55,-1.90],[0.46,-1.91],[0.30,-1.55],[0.22,-1.54],[0.24,-1.55],[0.15,-1.52],[0.25,-1.51],[0.29,-1.61],[0.26,-1.73],[0.28,-1.76],
  [0.30,-1.70],[0.20,-1.51],[0.13,-1.55],[0.85,-1.38],[0.88,-1.36],[0.90,-1.39],[0.87,-1.58],[0.91,-1.60],[0.91,-1.67],[0.90,-1.65],
  [0.86,-1.77],[0.93,-1.50],[0.97,-1.54],[0.96,-1.52],[0.98,-1.58],[1.00,-1.71],[0.93,-1.31],[0.94,-1.33],[0.98,-1.35],[1.01,-1.35],
  [1.03,-1.36],[1.04,-1.34],[1.06,-1.32],[1.07,-1.33],[1.00,-1.26],[1.02,-1.27],[1.07,-1.43],[1.02,-1.41],[1.13,-1.52],[1.24,-1.50],
  [1.21,-1.41],[1.31,-1.34],[1.37,-1.61],[1.11,-1.35],[1.13,-1.34],[1.17,-1.33],[1.19,-1.30],[1.15,-1.27],[1.11,-1.27],[1.12,-1.23],
  [1.15,-1.20],[1.18,-1.25],[1.06,-1.22],[1.02,-1.24],[0.99,-1.20],[1.01,-1.15],[0.99,-1.08],[1.01,-1.06],[1.07,-1.07],[1.12,-1.06],
  [1.15,-1.04],[1.21,-1.06],[1.24,-1.09],[1.26,-1.16],[1.25,-1.17],[1.28,-1.21],[1.27,-1.25],[1.22,-1.27],[1.18,-1.30],[1.17,-1.13],
  [1.16,-1.20],[1.24,-1.20],[1.40,-1.24],[1.49,-1.22],[1.51,-1.31],[1.07,-0.95],[0.99,-1.01],[1.15,-1.00],[1.11,-1.08],[1.27,-1.03],
  [1.29,-1.00],[1.22,-1.02],[1.35,-1.02],[1.37,-1.04],[1.37,-1.07],[1.32,-0.94],[1.35,-0.94],[1.38,-0.94],[1.41,-0.86],[1.45,-1.00],
  [1.52,-0.98],[1.54,-1.01],[1.55,-1.02],[1.57,-1.03],[1.52,-0.93],[1.55,-0.88],[1.50,-0.90],[1.55,-0.89],[1.79,-0.98],[1.42,-0.87],
  [1.49,-0.84],[1.50,-0.81],[1.49,-0.81],[1.46,-0.78],[1.41,-0.74],[1.46,-0.73],[1.47,-0.73],[1.52,-0.71],[1.36,-0.78],[1.31,-0.77],
  [1.25,-0.79],[1.21,-0.64],[1.40,-0.65],[1.43,-0.64],[1.48,-0.66],[1.55,-0.66],[1.62,-0.68],[1.61,-0.71],[1.71,-0.67],[1.39,-0.59],
  [1.41,-0.56],[1.47,-0.49],[1.56,-0.50],[1.65,-0.56],[1.63,-0.52],[1.61,-0.45],[1.65,-0.41],[1.68,-0.36],[1.58,-0.34],[1.53,-0.37],
  [1.59,-0.27],[1.61,-0.31],[1.62,-0.34],[1.67,-0.33],[1.72,-0.30],[1.73,-0.33],[1.75,-0.26],[1.73,-0.21],[1.75,-0.22],[1.81,-0.20],
  [1.88,-0.19],[1.91,-0.42],[1.92,-0.45],[1.60,-0.20],[1.60,-0.16],[1.65,-0.14],[1.66,-0.14],[1.72,-0.16],[1.81,-0.13],[1.89,-0.06],
  [1.68,-0.05],[1.69,-0.01],[1.73,0.01],[1.81,0.06],[1.86,0.08],[1.70,0.05],[1.61,0.10],[0.15,0.03],[0.10,0.00],[1.12,-0.46],
  [1.14,-0.54],[0.20,-1.16]
];

var axisMin = -2.32;
var axisMax = 2.54;
var tickValues = [-2, -1, 0, 1, 2];

var titleText = 'RealNVP normalizing flow: learned density matches the data';
var panelTitles = ['Real data (two moons)', 'Samples from trained flow'];

var FONT = 'DejaVu Sans';

function fmt(v) {
    return String(v).replace('-', '\u2212');
}

function makeAxis(idx, isX) {
    var sub = isX ? '1' : '2';
    return {
        type: 'value',
        gridIndex: idx,
        min: axisMin,
        max: axisMax,
        splitNumber: 5,
        position: isX ? 'bottom' : 'left',
        name: '{i|x}{s|' + sub + '}',
        nameLocation: 'middle',
        nameGap: isX ? 37 : 48,
        nameRotate: isX ? 0 : 90,
        nameTextStyle: {
            rich: {
                i: { fontStyle: 'italic', fontSize: 16, color: '#000', fontFamily: FONT },
                s: { fontSize: 11, color: '#000', fontFamily: FONT, padding: [7, 0, 0, 0] }
            }
        },
        axisLine: { show: true, onZero: false, lineStyle: { color: '#000', width: 1 } },
        axisTick: {
            show: true, inside: false, length: 5,
            customValues: tickValues,
            lineStyle: { color: '#000', width: 1 }
        },
        axisLabel: {
            customValues: tickValues,
            color: '#000',
            fontSize: 15,
            fontFamily: FONT,
            margin: isX ? 9 : 10,
            formatter: fmt
        },
        splitLine: { show: true, lineStyle: { color: '#e6e6e6', width: 1 } }
    };
}

var chart = echarts.init(document.getElementById('main'));
var option = {
    backgroundColor: '#fff',
    animation: false,
    textStyle: { fontFamily: FONT },
    title: [
        { text: titleText, left: 580, top: 9, textAlign: 'center',
          textStyle: { fontSize: 20, fontWeight: 'normal', color: '#000', fontFamily: FONT } },
        { text: panelTitles[0], left: 316, top: 36, textAlign: 'center',
          textStyle: { fontSize: 20, fontWeight: 'normal', color: '#000', fontFamily: FONT } },
        { text: panelTitles[1], left: 906, top: 36, textAlign: 'center',
          textStyle: { fontSize: 20, fontWeight: 'normal', color: '#000', fontFamily: FONT } }
    ],
    grid: [
        { left: 74, top: 65, width: 484, height: 483, show: true, borderColor: '#000', borderWidth: 1, backgroundColor: 'transparent' },
        { left: 665, top: 65, width: 484, height: 483, show: true, borderColor: '#000', borderWidth: 1, backgroundColor: 'transparent' }
    ],
    xAxis: [makeAxis(0, true), makeAxis(1, true)],
    yAxis: [makeAxis(0, false), makeAxis(1, false)],
    series: [
        {
            type: 'scatter', xAxisIndex: 0, yAxisIndex: 0,
            data: realData, symbolSize: 5.5,
            itemStyle: { color: '#1f77b4', opacity: 0.6 }
        },
        {
            type: 'scatter', xAxisIndex: 1, yAxisIndex: 1,
            data: flowData, symbolSize: 5.5,
            itemStyle: { color: '#d62728', opacity: 0.6 }
        }
    ]
};
chart.setOption(option);
</script>
</body>
</html>
